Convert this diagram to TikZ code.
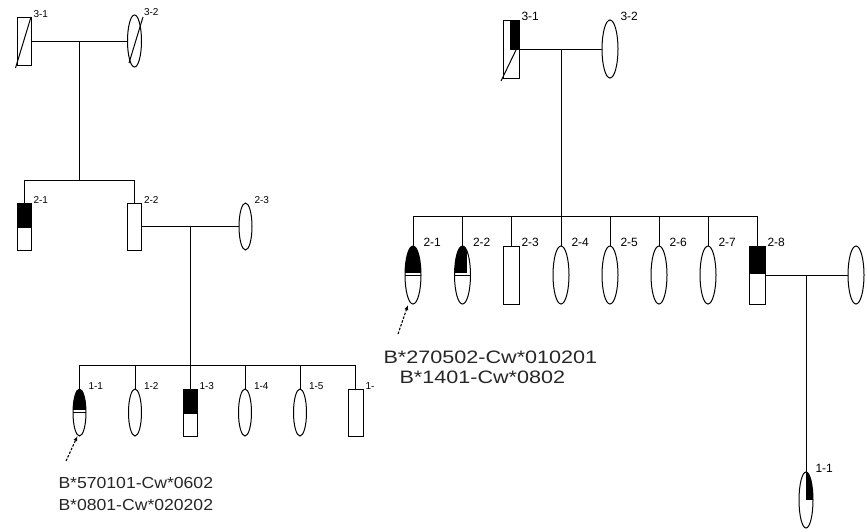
\documentclass[tikz,border=0pt]{standalone}
\usepackage{fontspec}
\setmainfont{Liberation Sans}
\usepackage{graphicx}
\usetikzlibrary{arrows.meta,shapes.geometric}

\tikzset{
  affected/.style={path picture={
    \fill (path picture bounding box.north west) rectangle ([yshift=-#1]path picture bounding box.north east);}},
  carrier/.style={path picture={
    \fill (path picture bounding box.north west) rectangle ([yshift=-#1]path picture bounding box.north east);
    \draw[line width=.9pt] ([yshift=-#1-2.4pt]path picture bounding box.north west) -- ([yshift=-#1-2.4pt]path picture bounding box.north east);}},
  leftpart/.style={path picture={
    \fill (path picture bounding box.north west) rectangle ([shift={(-3.5pt,-#1)}]path picture bounding box.north east);
    \draw[line width=.9pt] ([yshift=-#1-2.4pt]path picture bounding box.north west) -- ([yshift=-#1-2.4pt]path picture bounding box.north east);}},
  rightfill/.style 2 args={path picture={
    \fill ([xshift=-#1]path picture bounding box.north east) rectangle ([yshift=-#2]path picture bounding box.north east);}},
}

\begin{document}
\begin{tikzpicture}[x=1pt,y=-1pt,line width=1pt]
   \tikzstyle{ind}=[draw, inner sep=0pt, outer sep=0pt]
   \tikzstyle{maleL}=[ind, rectangle, minimum width=14pt, minimum height=47pt]
   \tikzstyle{femL}=[ind, ellipse, minimum width=13pt, minimum height=47pt]
   \tikzstyle{maleR}=[ind, rectangle, minimum width=16pt, minimum height=58pt]
   \tikzstyle{femR}=[ind, ellipse, minimum width=16pt, minimum height=58pt]
   \tikzstyle{labL}=[font=\fontsize{10}{12}\selectfont, inner sep=0pt, anchor=base west]
   \tikzstyle{labR}=[font=\fontsize{12}{14}\selectfont, inner sep=0pt, anchor=base west]
   \tikzstyle{txtL}=[font=\fontsize{16}{19}\selectfont, text=black!85, inner sep=0pt, anchor=base west]
   \tikzstyle{txtR}=[font=\fontsize{18}{21}\selectfont, text=black!85, inner sep=0pt, anchor=base west]
   \tikzstyle{proband}=[-{Latex[length=5pt,width=4pt]}, dash pattern=on 2.5pt off 1.5pt, line width=1.1pt]
   \useasboundingbox (0,0) rectangle (867,531);

   % left pedigree
   \node[maleL, minimum height=48pt] (L31) at (24,41) {};
   \node[femL, minimum width=14pt, minimum height=52pt] (L32) at (134.5,41) {};
   \draw (L31.north east) -- ([shift={(-1.5pt,-3pt)}]L31.south west);
   \draw ([shift={(-5.5pt,-22pt)}]L32.center) -- ([shift={(8.5pt,24pt)}]L32.center);
   \draw (L31) -- (L32);
   \coordinate (Lm3) at (79,41);
   \coordinate (Ls2) at (79,180);
   \node[maleL, affected=25pt] (L21) at (24,226.5) {};
   \node[maleL] (L22) at (134.5,226.5) {};
   \node[femL] (L23) at (245.5,226.5) {};
   \draw (Lm3) -- (Ls2);
   \draw (Ls2) -| (L21);
   \draw (Ls2) -| (L22);
   \draw (L22) -- (L23);
   \coordinate (Lm2) at (190,226.5);
   \coordinate (Ls1) at (190,365);
   \draw (Lm2) -- (Ls1);
   \node[femL, carrier=21pt] (L11) at (79.5,412.5) {};
   \node[femL] (L12) at (135,412.5) {};
   \node[maleL, affected=25pt] (L13) at (190,412.5) {};
   \node[femL] (L14) at (245,412.5) {};
   \node[femL] (L15) at (300,412.5) {};
   \node[maleL, minimum width=15pt] (L16) at (355.5,412.5) {};
   \foreach \n in {1,...,6}
       \draw (Ls1) -| (L1\n);
   \foreach \n/\t in {L31/3-1,L32/3-2,L21/2-1,L22/2-2,L23/2-3,L11/1-1,L12/1-2,L13/1-3,L14/1-4,L15/1-5,L16/1-}
       \node[labL, xshift=2pt] (t\n) at (\n.north -| \n.east) {\t};
   \coordinate (pL) at (66,461);
   \draw[proband] (pL) -- ([xshift=-2pt]L11.south);
   \node[txtL] (gL1) at (58,488) {\scalebox{1.1}[1]{B*570101-Cw*0602}};
   \node[txtL] (gL2) at (58,510) {\scalebox{1.1}[1]{B*0801-Cw*020202}};

   % right pedigree
   \node[maleR, rightfill={9pt}{30pt}] (R31) at (511,49) {};
   \node[femR] (R32) at (610,49) {};
   \draw ([shift={(-10pt,-32pt)}]R31.center) -- ([shift={(5pt,-1pt)}]R31.center);
   \draw (R31) -- (R32);
   \coordinate (Rm3) at (561,49);
   \coordinate (Rs2) at (561,216);
   \draw (Rm3) -- (Rs2);
   \node[femR, carrier=27pt] (R21) at (413,275) {};
   \node[femR, leftpart=27pt] (R22) at (462.5,275) {};
   \node[maleR] (R23) at (511,275) {};
   \node[femR] (R24) at (561,275) {};
   \node[femR] (R25) at (610,275) {};
   \node[femR] (R26) at (659,275) {};
   \node[femR] (R27) at (708,275) {};
   \node[maleR, affected=28pt] (R28) at (757,275) {};
   \foreach \n in {1,...,8}
       \draw (Rs2) -| (R2\n);
   \node[femR] (R29) at (856,275) {};
   \draw (R28) -- (R29);
   \coordinate (Rm2) at (806,275);
   \node[femR, minimum width=14pt, minimum height=56pt, rightfill={7pt}{28pt}] (R11) at (806,500) {};
   \draw (Rm2) -- (R11);
   \foreach \n/\t in {R31/3-1,R32/3-2,R21/2-1,R22/2-2,R23/2-3,R24/2-4,R25/2-5,R26/2-6,R27/2-7,R28/2-8,R11/1-1}
       \node[labR, xshift=2pt] (t\n) at (\n.north -| \n.east) {\t};
   \coordinate (pR) at (398,334);
   \draw[proband] (pR) -- ([shift={(-5pt,-1pt)}]R21.south);
   \node[txtR] (gR1) at (383,363) {\scalebox{1.2}[1]{B*270502-Cw*010201}};
   \node[txtR] (gR2) at (399,383) {\scalebox{1.2}[1]{B*1401-Cw*0802}};
\end{tikzpicture}
\end{document}
